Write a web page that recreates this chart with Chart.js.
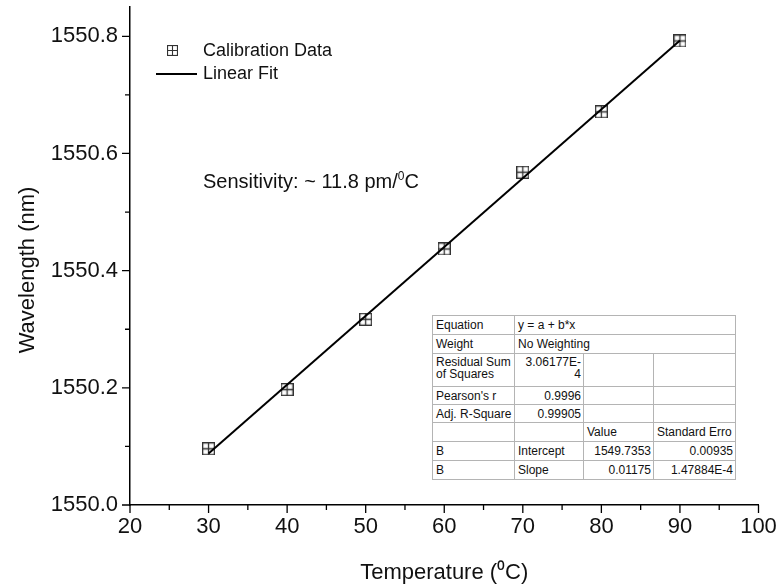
<!DOCTYPE html>
<html>
<head>
<meta charset="utf-8">
<title>FBG temperature calibration</title>
<script src="https://cdn.jsdelivr.net/npm/chart.js@4.4.1/dist/chart.umd.min.js"></script>
<style>
  html, body { margin: 0; padding: 0; background: #fff; }
  #wrap { position: relative; width: 779px; height: 588px; overflow: hidden; }
  canvas { display: block; }
  #note {
    position: absolute; left: 203px; top: 170px;
    font: 20px "Liberation Sans", Arial, sans-serif; color: #111; white-space: nowrap;
  }
  #note sup { font-size: 12px; vertical-align: 8px; line-height: 0; }
  table.fit {
    position: absolute; left: 432px; top: 315px;
    border-collapse: collapse; border: 1.5px solid #000; background: #fff;
    font: 12px "Liberation Sans", Arial, sans-serif; color: #111;
    table-layout: fixed;
  }
  table.fit td {
    border: 1px solid #b4b4b4; padding: 0 2px 0 3px; vertical-align: middle;
    line-height: 12px; white-space: nowrap; overflow: hidden;
  }
  table.fit td.r { text-align: right; }
  table.fit td.top { vertical-align: top; padding-top: 2px; }
</style>
</head>
<body>
<div id="wrap">
  <canvas id="chart" width="779" height="588"></canvas>
  <div id="note">Sensitivity: ~ 11.8 pm/<sup>0</sup>C</div>
  <table class="fit" id="fitTable">
    <colgroup><col style="width:82px"><col style="width:69px"><col style="width:70px"><col style="width:82px"></colgroup>
    <tr style="height:19px"><td>Equation</td><td colspan="3">y = a + b*x</td></tr>
    <tr style="height:19px"><td>Weight</td><td colspan="3">No Weighting</td></tr>
    <tr style="height:33px"><td class="top">Residual Sum<br>of Squares</td><td class="r top">3.06177E-<br>4</td><td></td><td></td></tr>
    <tr style="height:18px"><td>Pearson's r</td><td class="r">0.9996</td><td></td><td></td></tr>
    <tr style="height:18px"><td>Adj. R-Square</td><td class="r">0.99905</td><td></td><td></td></tr>
    <tr style="height:19px"><td></td><td></td><td>Value</td><td>Standard Erro</td></tr>
    <tr style="height:19px"><td>B</td><td>Intercept</td><td class="r">1549.7353</td><td class="r">0.00935</td></tr>
    <tr style="height:19px"><td>B</td><td>Slope</td><td class="r">0.01175</td><td class="r">1.47884E-4</td></tr>
  </table>
</div>
<script>
// Measured Bragg wavelength vs. temperature
const temperatures = [30, 40, 50, 60, 70, 80, 90];          // °C
const wavelengths  = [1550.096, 1550.197, 1550.317, 1550.437, 1550.568, 1550.671, 1550.792]; // nm

// Linear fit parameters (y = a + b*x)
const fitIntercept = 1549.7353;
const fitSlope     = 0.01175;
const fitRange     = [30, 90];

// Axis settings
const xLimits = [20, 100];
const yLimits = [1550.0, 1550.85];
const xMajorStep = 10;
const yMajorStep = 0.2;

const FONT = '"Liberation Sans", Arial, sans-serif';

// Square-with-cross marker
function makeMarker(size, lw) {
  const c = document.createElement('canvas');
  c.width = size; c.height = size;
  const g = c.getContext('2d');
  g.fillStyle = '#fff';
  g.fillRect(0, 0, size, size);
  g.strokeStyle = '#333';
  g.lineWidth = lw;
  const h = lw / 2;
  g.strokeRect(h, h, size - lw, size - lw);
  g.beginPath();
  g.moveTo(size / 2, 0); g.lineTo(size / 2, size);
  g.moveTo(0, size / 2); g.lineTo(size, size / 2);
  g.stroke();
  return c;
}
const dataMarker = makeMarker(13, 1.3);
const legendMarker = makeMarker(11, 1.1);

const fitPoints = fitRange.map(t => ({ x: t, y: fitIntercept + fitSlope * t }));
const calPoints = temperatures.map((t, i) => ({ x: t, y: wavelengths[i] }));

// Outward major/minor tick marks on both axes
const axisTicks = {
  id: 'axisTicks',
  afterDraw(chart) {
    const { ctx, chartArea: a, scales: { x, y } } = chart;
    ctx.save();
    ctx.strokeStyle = '#000';
    ctx.lineWidth = 1.3;
    ctx.beginPath();
    const xt = x.ticks.map(t => t.value);
    xt.forEach((v, i) => {
      const px = x.getPixelForValue(v);
      ctx.moveTo(px, a.bottom); ctx.lineTo(px, a.bottom + 8);
      if (i < xt.length - 1) {
        const pm = x.getPixelForValue((v + xt[i + 1]) / 2);
        ctx.moveTo(pm, a.bottom); ctx.lineTo(pm, a.bottom + 5);
      }
    });
    const yt = y.ticks.map(t => t.value);
    yt.forEach((v, i) => {
      const py = y.getPixelForValue(v);
      ctx.moveTo(a.left, py); ctx.lineTo(a.left - 8, py);
      if (i < yt.length - 1) {
        const pm = y.getPixelForValue((v + yt[i + 1]) / 2);
        ctx.moveTo(a.left, pm); ctx.lineTo(a.left - 5, pm);
      }
    });
    ctx.stroke();
    ctx.restore();
  }
};

// In-plot legend and rotated y-axis title
const decorations = {
  id: 'decorations',
  afterDraw(chart) {
    const { ctx } = chart;
    const ds = chart.data.datasets;
    ctx.save();
    ctx.fillStyle = '#111';
    ctx.font = '18px ' + FONT;
    ctx.textBaseline = 'middle';
    ctx.textAlign = 'left';
    // scatter entry
    ctx.drawImage(legendMarker, 167, 45);
    ctx.fillText(ds[1].label, 203, 51);
    // line entry
    ctx.strokeStyle = '#000';
    ctx.lineWidth = 2;
    ctx.beginPath(); ctx.moveTo(156, 74); ctx.lineTo(197, 74); ctx.stroke();
    ctx.fillText(ds[0].label, 203, 74);

    // y-axis title
    ctx.font = '22px ' + FONT;
    ctx.textAlign = 'center';
    ctx.translate(28, 270);
    ctx.rotate(-Math.PI / 2);
    ctx.fillText('Wavelength (nm)', 0, 0);
    ctx.restore();
  }
};

new Chart(document.getElementById('chart'), {
  type: 'scatter',
  data: {
    datasets: [
      {
        label: 'Linear Fit',
        type: 'line',
        data: fitPoints,
        borderColor: '#000',
        borderWidth: 2,
        pointRadius: 0,
        fill: false,
        order: 0
      },
      {
        label: 'Calibration Data',
        data: calPoints,
        pointStyle: dataMarker,
        pointRadius: 6,
        order: 1
      }
    ]
  },
  options: {
    responsive: false,
    animation: false,
    events: [],
    layout: { padding: { left: 0, top: 7, right: 20.5, bottom: 0 } },
    plugins: { legend: { display: false }, tooltip: { enabled: false } },
    scales: {
      x: {
        type: 'linear',
        min: xLimits[0], max: xLimits[1],
        ticks: {
          stepSize: xMajorStep,
          color: '#111',
          font: { family: FONT, size: 22 },
          padding: 9,
          maxRotation: 0,
          autoSkip: false
        },
        grid: { display: true, drawOnChartArea: false, drawTicks: false },
        border: { display: true, color: '#000', width: 1.5 },
        title: {
          display: true,
          text: 'Temperature (\u2070C)',
          color: '#111',
          font: { family: FONT, size: 22 },
          padding: { top: 0, bottom: 2 }
        },
        afterFit(s) {
          s.height = 83;
          s.paddingLeft = 0; s.paddingRight = 0; s.paddingTop = 0; s.paddingBottom = 0;
        }
      },
      y: {
        type: 'linear',
        min: yLimits[0], max: yLimits[1],
        ticks: {
          stepSize: yMajorStep,
          color: '#111',
          font: { family: FONT, size: 22 },
          padding: 12,
          callback: v => v.toFixed(1)
        },
        afterBuildTicks(s) {
          const out = [];
          for (let v = yLimits[0]; v <= yLimits[1] + 1e-9; v += yMajorStep) out.push({ value: +v.toFixed(1) });
          s.ticks = out;
        },
        grid: { display: true, drawOnChartArea: false, drawTicks: false },
        border: { display: true, color: '#000', width: 1.5 },
        afterFit(s) {
          s.width = 130;
          s.paddingLeft = 0; s.paddingRight = 0; s.paddingTop = 0; s.paddingBottom = 0;
        }
      }
    }
  },
  plugins: [axisTicks, decorations]
});
</script>
</body>
</html>
